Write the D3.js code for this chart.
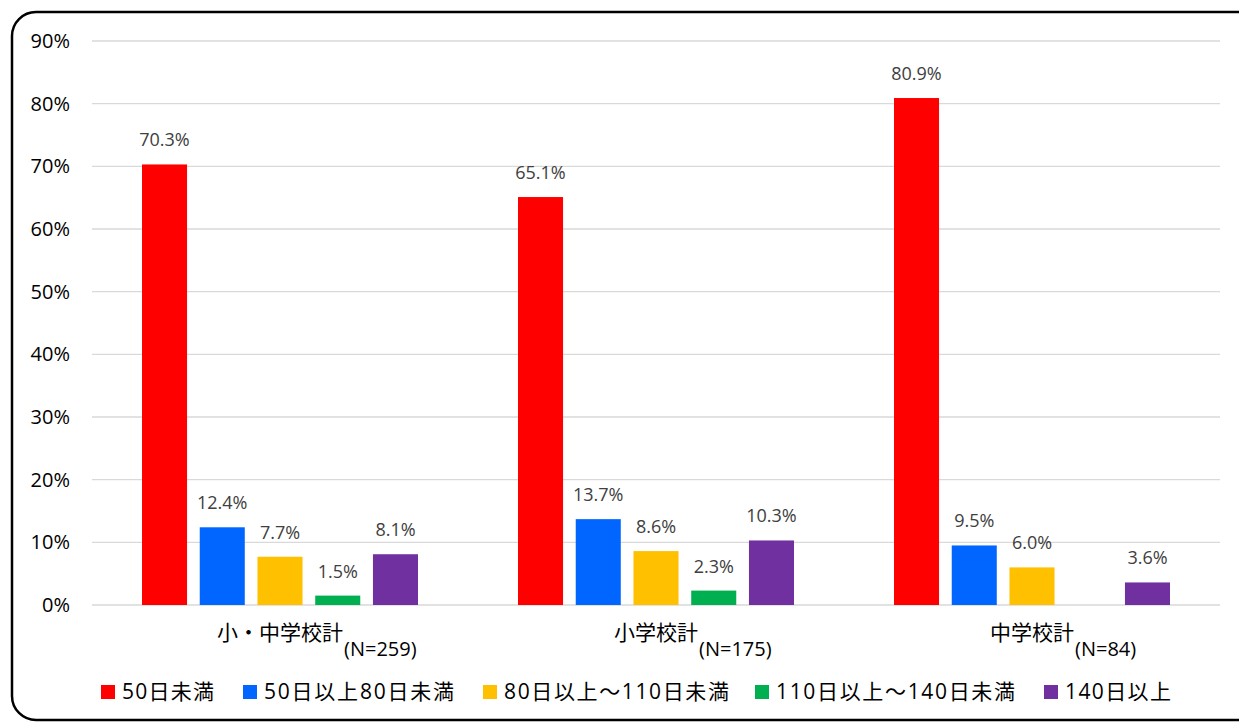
<!DOCTYPE html>
<html>
<head>
<meta charset="utf-8">
<script src="https://cdn.jsdelivr.net/npm/d3@7"></script>
<style>
  body { margin: 0; background: #fff; }
  svg text { font-family: "Open Sans", "Noto Sans CJK JP", sans-serif; }
</style>
</head>
<body>
<div class="chart"></div>
<script>
// Chart data
var categories = ["小・中学校計", "小学校計", "中学校計"];
var sampleSizes = ["(N=259)", "(N=175)", "(N=84)"];
var seriesNames = ["50日未満", "50日以上80日未満", "80日以上～110日未満", "110日以上～140日未満", "140日以上"];
var seriesColors = ["#ff0000", "#0066ff", "#ffc000", "#00b050", "#7030a0"];
var values = [
	[70.3, 12.4, 7.7, 1.5, 8.1],
	[65.1, 13.7, 8.6, 2.3, 10.3],
	[80.9, 9.5, 6.0, null, 3.6]
];
var yTicks = [0, 10, 20, 30, 40, 50, 60, 70, 80, 90];

// legend layout (x of each swatch, width of each label)
var legendX = [101, 243, 483, 755, 1044];
var legendW = [92, 190, 225, 239, 106];

var svg_width = 1239;
var svg_height = 722;

var margin = { top: 41, right: 19, bottom: 117, left: 92 };
var width = svg_width - margin.left - margin.right;
var height = svg_height - margin.top - margin.bottom;

var svg = d3.select(".chart")
	.append("svg")
	.attr("width", svg_width)
	.attr("height", svg_height);

// rounded frame (runs off the right edge)
svg.append("rect")
	.attr("x", 12).attr("y", 12)
	.attr("width", 1250).attr("height", 708)
	.attr("rx", 24).attr("ry", 24)
	.attr("fill", "none")
	.attr("stroke", "#000")
	.attr("stroke-width", 2.5);

var g = svg.append("g")
	.attr("transform", `translate(${margin.left}, ${margin.top})`);

// Scales
var x0 = d3.scaleBand()
	.domain(categories)
	.range([0, width]);

var x1 = d3.scaleBand()
	.domain(seriesNames)
	.range([50, x0.bandwidth() - 50])
	.paddingInner(0.22);

var yScale = d3.scaleLinear()
	.domain([0, 90])
	.range([height, 0]);

// gridlines
g.append("g")
	.selectAll("line")
	.data(yTicks)
	.enter()
	.append("line")
	.attr("x1", 0).attr("x2", width)
	.attr("y1", d => yScale(d)).attr("y2", d => yScale(d))
	.attr("stroke", "#d9d9d9")
	.attr("stroke-width", 1.3);

// y axis labels
var leftAxis = d3.axisLeft(yScale)
	.tickValues(yTicks)
	.tickFormat(d => d + "%")
	.tickSize(0)
	.tickPadding(22);

var yAxis = g.append("g").call(leftAxis);
yAxis.select(".domain").remove();
yAxis.selectAll("text")
	.attr("font-size", 20)
	.attr("fill", "#000")
	.style("font-family", "'Open Sans', sans-serif");

// bars
var groups = g.selectAll(".grp")
	.data(values)
	.enter()
	.append("g")
	.attr("class", "grp")
	.attr("transform", (d, i) => `translate(${x0(categories[i])}, 0)`);

groups.selectAll("rect")
	.data(d => d.map((v, j) => ({ v: v, s: seriesNames[j], c: seriesColors[j] })).filter(d => d.v != null))
	.enter()
	.append("rect")
	.attr("x", d => x1(d.s))
	.attr("y", d => yScale(d.v))
	.attr("width", x1.bandwidth())
	.attr("height", d => height - yScale(d.v))
	.attr("fill", d => d.c);

groups.selectAll("text")
	.data(d => d.map((v, j) => ({ v: v, s: seriesNames[j] })).filter(d => d.v != null))
	.enter()
	.append("text")
	.attr("x", d => x1(d.s) + x1.bandwidth() / 2)
	.attr("y", d => yScale(d.v) - 18)
	.attr("text-anchor", "middle")
	.attr("font-size", 18)
	.attr("fill", "#404040")
	.text(d => d.v.toFixed(1) + "%");

// category labels: name centred on the group, N as a subscript after it
categories.forEach(function(c, i) {
	var cx = x0(c) + x0.bandwidth() / 2;
	var main = g.append("text")
		.attr("x", cx)
		.attr("y", height + 35)
		.attr("text-anchor", "middle")
		.attr("font-size", 21)
		.attr("fill", "#000")
		.style("font-family", "'Noto Sans CJK JP', sans-serif")
		.text(c);
	var w = main.node().getComputedTextLength();
	g.append("text")
		.attr("x", cx + w / 2 + 1)
		.attr("y", height + 51)
		.attr("font-size", 20)
		.attr("fill", "#000")
		.text(sampleSizes[i]);
});

// legend
var legend = svg.append("g")
	.selectAll("g")
	.data(seriesNames)
	.enter()
	.append("g")
	.attr("transform", (d, i) => `translate(${legendX[i]}, 685)`);

legend.append("rect")
	.attr("x", 0).attr("y", 0)
	.attr("width", 14).attr("height", 14)
	.attr("fill", (d, i) => seriesColors[i]);

legend.append("text")
	.attr("x", 21)
	.attr("y", 14)
	.attr("font-size", 21)
	.attr("fill", "#000")
	.attr("textLength", (d, i) => legendW[i])
	.attr("lengthAdjust", "spacing")
	.text(d => d);
</script>
</body>
</html>
